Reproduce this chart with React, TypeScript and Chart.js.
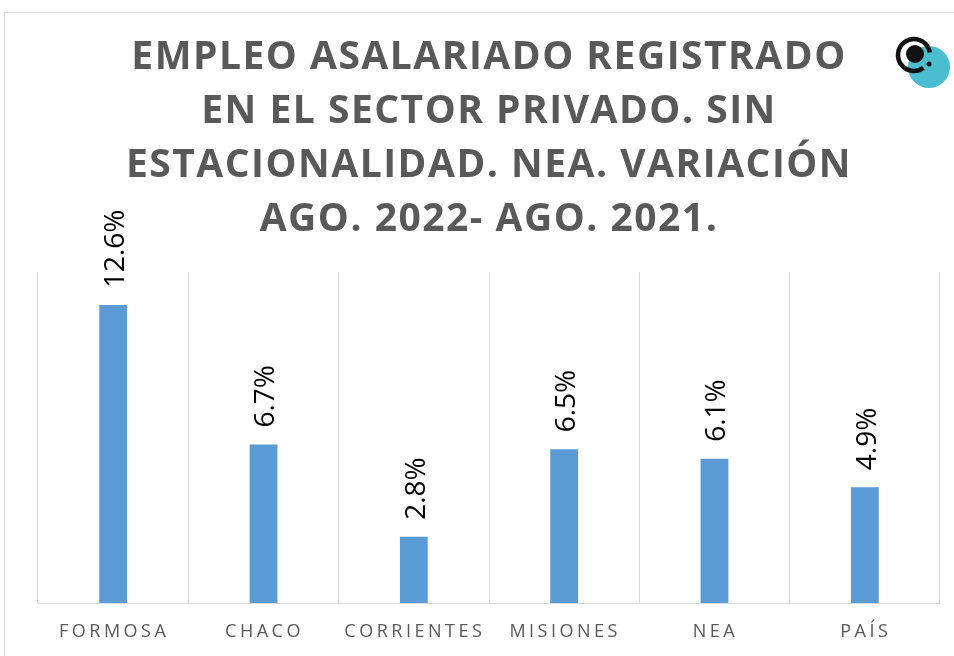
import React, { useEffect, useRef } from "react";
import { Chart, registerables } from "chart.js";

Chart.register(...registerables);

const categories = ["FORMOSA", "CHACO", "CORRIENTES", "MISIONES", "NEA", "PAÍS"];
const values = [12.6, 6.7, 2.8, 6.5, 6.1, 4.9];
const valueLabels = ["12.6%", "6.7%", "2.8%", "6.5%", "6.1%", "4.9%"];
const titleLines = [
  "EMPLEO ASALARIADO REGISTRADO",
  "EN EL SECTOR PRIVADO. SIN",
  "ESTACIONALIDAD. NEA. VARIACIÓN",
  "AGO. 2022- AGO. 2021.",
];

const overlay = {
  id: "overlay",
  afterDraw(chart: any) {
    const ctx = chart.ctx as CanvasRenderingContext2D;
    const area = chart.chartArea;
    const xs = chart.scales.x;
    const meta = chart.getDatasetMeta(0);

    // outer border
    ctx.save();
    ctx.strokeStyle = "#d9d9d9";
    ctx.lineWidth = 1;
    ctx.beginPath();
    ctx.moveTo(4.5, 700);
    ctx.lineTo(4.5, 12.5);
    ctx.lineTo(980, 12.5);
    ctx.stroke();
    ctx.restore();

    // title
    ctx.save();
    ctx.fillStyle = "#595959";
    ctx.font = "bold 39px 'Open Sans'";
    (ctx as any).letterSpacing = "1.5px";
    ctx.textAlign = "center";
    ctx.textBaseline = "middle";
    titleLines.forEach((t, i) => {
      ctx.fillText(t, 489, 58 + i * 54);
    });
    ctx.restore();

    // value labels (rotated)
    ctx.save();
    ctx.fillStyle = "#000000";
    ctx.font = "28px 'Open Sans'";
    ctx.textAlign = "left";
    ctx.textBaseline = "middle";
    meta.data.forEach((bar: any, i: number) => {
      ctx.save();
      ctx.translate(bar.x + 3, bar.y - 17);
      ctx.rotate(-Math.PI / 2);
      ctx.fillText(valueLabels[i], 0, 0);
      ctx.restore();
    });
    ctx.restore();

    // category labels
    ctx.save();
    ctx.fillStyle = "#595959";
    ctx.font = "18px 'Open Sans'";
    (ctx as any).letterSpacing = "3.5px";
    ctx.textAlign = "center";
    ctx.textBaseline = "middle";
    categories.forEach((c, i) => {
      ctx.fillText(c, xs.getPixelForValue(i) + 1, area.bottom + 29);
    });
    ctx.restore();

    // logo
    ctx.save();
    ctx.fillStyle = "#4bbdd1";
    ctx.beginPath();
    ctx.arc(929, 67, 21, 0, Math.PI * 2);
    ctx.fill();
    ctx.strokeStyle = "#111111";
    ctx.lineWidth = 4.5;
    ctx.beginPath();
    ctx.arc(914, 55, 16, Math.PI * 0.3, Math.PI * 1.95);
    ctx.stroke();
    ctx.fillStyle = "#111111";
    ctx.beginPath();
    ctx.arc(915, 54, 9, 0, Math.PI * 2);
    ctx.fill();
    ctx.beginPath();
    ctx.arc(929, 64, 2.5, 0, Math.PI * 2);
    ctx.fill();
    ctx.restore();
  },
};

export default function App() {
  const ref = useRef<HTMLCanvasElement | null>(null);
  useEffect(() => {
    if (!ref.current) return;
    const chart = new Chart(ref.current, {
      type: "bar",
      data: {
        labels: categories,
        datasets: [
          {
            data: values,
            backgroundColor: "#5b9bd5",
            borderWidth: 0,
            categoryPercentage: 1,
            barPercentage: 0.185,
          },
        ],
      },
      options: {
        animation: false,
        responsive: false,
        layout: { padding: { left: 38, right: 14, top: 272, bottom: 53 } },
        plugins: { legend: { display: false }, tooltip: { enabled: false }, title: { display: false } },
        scales: {
          x: {
            offset: true,
            grid: { display: true, offset: true, color: "#d9d9d9", lineWidth: 1, drawTicks: false },
            border: { display: true, color: "#d9d9d9", width: 1 },
            ticks: { display: false },
          },
          y: {
            display: false,
            min: 0,
            max: 14,
          },
        },
      },
      plugins: [overlay],
    });
    return () => chart.destroy();
  }, []);
  return (
    <div style={{ position: "absolute", left: 0, top: 0, width: 954, height: 656, background: "#fff" }}>
      <canvas ref={ref} width={954} height={656} style={{ width: 954, height: 656, display: "block" }} />
    </div>
  );
}
